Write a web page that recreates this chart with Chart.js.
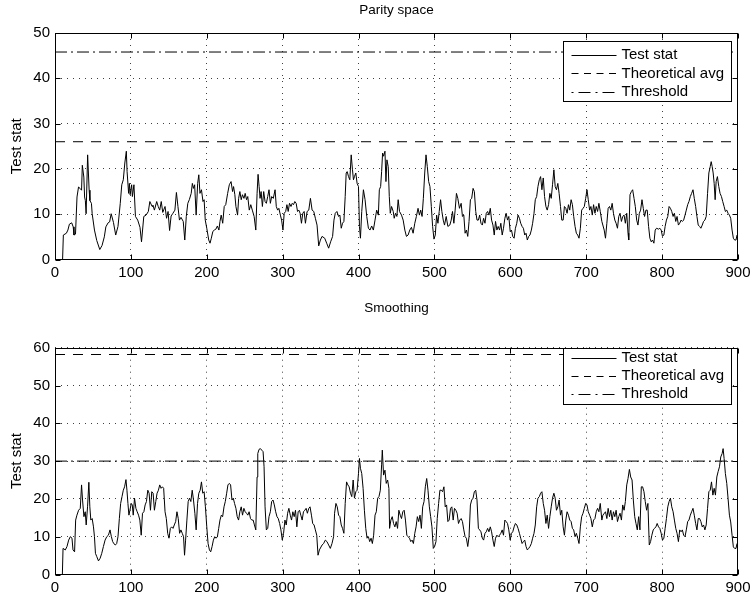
<!DOCTYPE html>
<html>
<head>
<meta charset="utf-8">
<script src="https://cdn.jsdelivr.net/npm/chart.js@4.4.1/dist/chart.umd.min.js"></script>
<style>
  html, body { margin: 0; padding: 0; background: #ffffff; }
  canvas { position: absolute; left: 0; top: 0; }
</style>
</head>
<body>
<canvas id="cTop" width="755" height="597"></canvas>
<canvas id="cBot" width="755" height="597"></canvas>
<script>
// ---------------- data ----------------
const xTickValues = [0, 100, 200, 300, 400, 500, 600, 700, 800, 900];
const parityYTicks = [0, 10, 20, 30, 40, 50];
const smoothingYTicks = [0, 10, 20, 30, 40, 50, 60];
const seriesNames = ['Test stat', 'Theoretical avg', 'Threshold'];
const panelTitles = ['Parity space', 'Smoothing'];
const yAxisLabel = 'Test stat';

const parityAvg = 26.0;
const parityThreshold = 45.8;
const smoothingAvg = 58.2;
const smoothingThreshold = 30.0;

// [sample, value]
const parityStat = [
[10,0],[11,5.4],[15,5.8],[17,6.5],[19,7.8],[22,8.1],[24,7.2],[25,5.4],[27,5.6],[29,13.8],[31,16],[33,15.7],[35,15.3],[36,20.8],[38,18.2],[39,13.8],[40,13],[41,10.1],[43,23.1],[45,15.3],[46,13],[48,12.4],[49,10.1],[52,6.5],[55,4.2],[59,2.2],[62,3.1],[65,5.0],[67,7.2],[70,8.1],[72,8.3],[74,10.1],[77,8.2],[80,5.4],[83,7.3],[86,12.4],[88,16.5],[90,17.6],[92,21.3],[94,23.9],[95,19.4],[97,14.6],[98,16.8],[99,14.3],[101,16.5],[102,13.9],[104,16.5],[106,9.5],[109,8.7],[112,7.1],[114,3.9],[117,9.5],[120,9.8],[123,10.6],[125,12.8],[128,11.7],[129,12],[131,10.9],[134,12.8],[136,11.7],[138,10.9],[140,12.8],[142,10.4],[145,11.7],[147,9.1],[149,10.6],[151,6.4],[153,9.6],[155,10.1],[158,10.9],[160,14.8],[162,11.7],[164,8.7],[166,9.3],[169,8.4],[171,4.3],
[173,9.5],[175,12.4],[177,13.2],[179.5,14.6],[181,16.8],[182.5,15.7],[184,16.5],[186,9.8],[188,16.8],[189.5,18.7],[191,14.6],[193,15.4],[195,12.8],[196.5,13.2],[198,8.7],[200,6.9],[202.6,4.3],[204.3,3.6],[206,4.7],[208,6.2],[210,6.5],[212,6.7],[214,7.4],[216,6.5],[217.4,8.4],[219,9.8],[221,8.0],[223,11.7],[225,12.1],[227.5,14.6],[229.7,16.5],[232,17.2],[234,15.0],[235.3,16.1],[237,14.3],[238.4,11.7],[240.6,9.8],[242,13.5],[243.6,15.0],[245.4,13.2],[247,14.3],[249,13.5],[250.6,14.6],[252.4,13.2],[254,13.9],[256,10.9],[258,12.1],[260,10.9],[262.4,9.5],[264.6,6.5],[266.3,14.6],[267.6,18.8],[269,16.1],[270.2,13.5],[271.6,15.0],[273.3,11.7],[275,15.0],[276.8,12.8],[278.5,12.4],[280.3,13.9],[282,15.4],[283.8,12.4],[285.5,13.9],[287.7,13.5],[290,15.4],[291.6,11.7],[293.4,10.9],[295,11.3],[297,9.8],[298.6,8.7],[300.4,6.5],[302,10.2],[304,10.6],[305.6,12.1],[307.3,10.6],[309,12.4],[311,11.7],[312.6,12.4],[314.3,12.1],[316,12.8],[317.8,12.4],[319.6,10.6],[321.3,10.9],[323,10.2],[324.8,8.0],[326.5,10.2],[328.3,10.6],[330,8.0],[332.2,10.6],[334.4,10.9],[336.6,13.5],[338.8,10.9],[341,10.6],[343.1,9.1],[345.3,7.6],[347.5,3.0],[349.7,4.3],[351.9,5.1],
[355.4,4.7],[358,3.6],[360.6,2.5],[363.2,3.9],[365.8,5.1],[367.6,8.7],[369.3,10.2],[371.5,10.6],[373.7,9.5],[375.4,9.8],[377.2,6.9],[378.9,8.0],[380.7,8.4],[382.4,13.9],[383.7,19.1],[385,19.4],[386.8,18.3],[388.5,17.6],[390.3,23.1],[392,19.8],[393.3,17.6],[394.6,18.3],[396.4,19.1],[398.1,16.8],[399.9,16.1],[401.2,7.3],[402.5,4.7],[404.2,10.6],[406.4,15.4],[408.6,13.2],[410.8,9.5],[413,6.9],[415.1,6.5],[417.3,7.4],[419.5,6.5],[421.7,8.7],[423.9,10.9],[426.1,9.8],[427.4,15.4],[429.1,16.1],[430.4,19.4],[431.7,23.5],[433,22.8],[434.8,23.9],[436.1,17.2],[437.4,22.0],[439.1,20.5],[440.5,13.9],[441.8,10.2],[443.5,11.7],[445.7,10.6],[447,9.1],[448.7,10.2],[450.5,9.5],[452.2,13.2],[454,10.6],[456.6,9.8],[458.8,8.7],[461,6.5],[463.1,5.1],[465.3,5.4],[467.5,6.5],[469.7,7.1],[471.9,5.8],[474.1,8.0],[476.2,9.5],[478.4,11.3],[480.2,9.8],[481.9,10.9],[483.7,9.5],[485.4,13.5],[487.2,19.1],[488.9,23.1],[490.6,20.5],[492.4,17.2],[494.1,16.1],[495.9,11.7],[497.6,7.3],[499.4,4.5],[501.1,5.4],[502.9,9.8],[504.6,8.0],[506.3,10.6],[508.1,13.2],[509.8,10.6],[511.6,8.7],[513.3,7.6],[515.5,9.5],[517.7,7.3],[520.3,7.6],[522.1,8.7],[523.8,10.6],[525.6,8.0],[527.3,10.9],[529,14.6],[530.8,13.5],[533,11.3],
[535.2,12.4],[536.9,9.5],[538.7,9.8],[540.4,5.8],[542.1,6.5],[543.9,5.1],[545.6,8.4],[547.4,13.2],[549.1,13.5],[550.9,15.7],[552.6,15.0],[554.4,10.6],[556.1,8.7],[557.9,8.7],[559.6,9.8],[561.3,8.0],[563.1,7.6],[564.8,9.1],[566.6,8.0],[568.3,10.2],[570.1,10.6],[571.8,9.8],[573.6,11.3],[575.3,8.7],[577.1,7.6],[578.8,5.4],[580.5,8.4],[582.3,6.5],[584,7.3],[585.8,6.5],[587.5,8.0],[589.3,5.4],[591,6.9],[592.8,9.1],[594.5,10.2],[596.3,8.7],[598,9.5],[599.8,6.2],[601.5,6.5],[603.2,5.1],[605,4.7],[606.7,6.9],[608.5,8.0],[610.2,9.8],[612,9.1],[613.7,8.0],[615.5,7.3],[617.2,6.9],[619,5.4],[620.7,5.8],[622.4,4.3],[624.2,5.1],[625.9,5.4],[627.7,6.5],[629.4,8.0],[631.2,10.2],[632.9,13.2],[634.7,13.9],[636.4,16.1],[638.2,17.6],[639.9,18.3],[641.6,15.4],[643.4,18.0],[645.1,13.9],[646.9,11.7],[648.6,10.9],[650.4,12.1],[652.1,14.6],[653.9,13.5],[655.6,16.5],[657.4,19.8],[659.1,16.1],[660.8,15.4],[662.6,16.8],[664.3,14.6],[666.1,11.7],[667.8,8.7],[669.6,8.7],[671.3,11.7],[673.1,11.3],[674.8,10.2],[676.6,12.1],[678.3,10.9],[680.1,13.2],[681.8,12.1],[683.5,9.5],[685.3,7.3],[687,5.8],[688.8,5.4],[690.5,4.7],[692.3,6.9],[694,10.9],[695.8,11.3],[697.5,11.7],[699.3,13.5],[701,15.4],[702.7,13.2],[704.5,10.9],[706.2,11.7],[708,9.8],[709.7,12.1],[711.5,10.2],[713.2,11.7],[715,10.6],[716.7,12.4],[718.5,10.6],[720.6,8.4],
[723.7,6.5],[725.4,4.7],[727.2,8.0],[728.9,11.3],[730.7,11.7],[732.4,10.9],[734.2,12.4],[735.9,10.2],[737.7,8.7],[739.4,8.0],[741.2,6.9],[742.9,9.5],[744.6,10.2],[746.4,8.4],[748.1,9.5],[749.9,9.8],[751.6,8.0],[753.4,10.2],[755.1,5.8],[756,4.3],[757.7,14.3],[759.5,15.0],[761.2,15.4],[763,13.5],[764.7,11.7],[766.5,8.7],[768.2,7.6],[770,10.2],[771.7,10.9],[773.5,13.2],[775.2,11.3],[776.9,9.5],[778.7,10.9],[780.4,10.9],[782.2,7.3],[783.9,4.7],[785.7,3.9],[787.4,4.3],[789.2,3.6],[790.9,6.5],[792.7,6.9],[795.3,6.7],[797,6.9],[798.8,6.5],[800.5,5.1],[802.3,5.4],[804,7.3],[805.7,8.7],[807.5,9.5],[809.2,11.7],[811,11.3],[812.7,10.6],[814.5,9.5],[816.2,10.2],[818,8.4],[819.7,9.5],[821.5,7.6],[823.2,8.0],[825,8.7],[826.7,8.4],[828.4,8.7],[830.2,9.8],[831.9,10.9],[833.7,12.1],[835.4,12.8],[837.2,13.9],[838.9,14.6],[840.7,15.4],[842.4,13.5],[844.2,11.7],[845.9,9.5],[847.6,7.6],[849.4,7.3],[851.1,6.9],[852.9,7.6],[854.6,8.4],[856.4,8.7],[858.1,9.5],[859.9,14.6],[861.6,19.1],[863.4,20.5],[864.7,21.6],[866,20.5],[867.3,19.1],[868.6,16.8],[869.9,13.2],[871.2,17.2],[872.9,18.3],[874.7,16.1],[876.4,14.6],[878.2,13.9],[879.9,12.8],[881.7,11.7],[883.4,10.6],[885.2,10.9],[886.9,10.2],[888.7,9.8],[890.4,9.1],[892.2,6.5],[893.9,4.7],[895.6,4.3],[897.4,4.3],[898.7,5.4]
];

const smoothingStat = [
[9.7,0],[10.6,6.9],[13.6,6.5],[15.8,7.4],[18,9.1],[20.2,10.0],[22.4,9.6],[23.7,6.5],[25.8,6.0],[27.2,14.4],[28.9,15.7],[31.1,17.0],[33.3,17.5],[35,23.7],[36.3,19.7],[38.1,15.3],[39.8,16.6],[41.1,13.1],[42.9,17.9],[44.6,24.4],[45.9,17.9],[47.2,14.4],[49,14.8],[50.7,12.6],[52,10.0],[53.3,5.6],[55.1,4.7],[57.3,3.6],[59.5,4.3],[61.6,5.6],[63.8,7.4],[66,9.1],[68.2,10.0],[70.4,10.4],[72.5,11.8],[74.3,10.0],[76,8.7],[77.8,8.1],[79.5,7.8],[81.3,8.2],[83,10.0],[84.8,14.8],[86.5,18.8],[88.3,20.6],[90,22.3],[91.7,23.2],[93.5,25.1],[94.8,22.3],[96.1,18.8],[97.4,15.7],[98.7,17.0],[100.5,18.8],[101.8,18.4],[103.1,15.7],[104.8,20.2],[106.6,17.5],[108.3,16.6],[110.1,15.7],[111.8,14.4],[113.6,10.4],[115.3,16.2],[117.1,16.6],[118.8,18.4],[120.5,19.3],[122.3,22.3],[124,21.5],[125.8,17.0],[127.5,21.9],[129.3,21.5],[131,17.0],[132.8,19.3],[134.5,21.5],[136.3,22.3],[138,23.7],[139.8,22.8],[141.5,23.2],[143.2,22.8],[145,16.6],[146.7,14.8],[148.5,10.9],[150.2,9.6],[152,12.2],[153.7,12.6],[155.5,12.2],[157.2,13.1],[159,14.0],[160.7,16.6],[162.4,14.8],[164.2,10.9],[165.9,11.8],[167.7,10.9],[169.4,10.0],[170.7,5.1],
[172.1,9.1],[173.8,14.4],[175.5,19.3],[177.3,20.2],[179,19.3],[180.8,22.3],[182.5,19.7],[184.3,16.2],[186,11.8],[187.8,18.8],[189.5,21.5],[191.3,22.3],[193,24.5],[194.7,21.5],[196.5,21.9],[198.2,17.9],[200,12.6],[201.7,8.2],[203.5,6.5],[205.2,6.0],[207,7.4],[208.7,9.1],[210.5,10.0],[212.2,9.6],[214,10.0],[215.7,12.2],[217.4,14.4],[219.2,15.7],[220.9,15.3],[222.7,17.9],[224.4,19.3],[226.2,21.5],[227.9,23.7],[229.7,24.1],[231.4,23.7],[233.2,19.7],[234.9,20.2],[236.6,18.8],[238.4,17.5],[240.1,15.3],[241.9,14.4],[243.6,16.6],[245.4,17.9],[247.1,15.7],[248.9,17.5],[250.6,16.6],[252.4,16.2],[254.1,15.7],[255.8,16.6],[257.6,14.8],[259.3,14.4],[261.1,14.4],[262.8,13.1],[264.6,11.8],[266.3,25.8],[267.2,32.0],[268.9,33.1],[270.7,33.3],[272.4,32.9],[274.2,32.5],[275.5,28.5],[276.8,17.9],[278.5,11.8],[280.3,12.2],[282,15.3],[283.8,16.6],[285.5,19.3],[287.3,19.7],[289,18.4],[290.8,16.6],[292.5,15.3],[294.2,14.8],[296,13.5],[297.7,11.8],[299.5,9.1],[301.2,10.9],[303,14.4],[304.7,13.1],[306.5,16.2],[308.2,17.5],[310,15.7],[311.7,14.4],[313.4,16.6],[315.2,15.3],[316.9,17.0],[318.7,12.6],[320.4,16.6],[322.2,17.0],[323.9,15.7],[325.7,14.4],[327.4,16.6],[329.2,17.0],[330.9,17.5],[332.6,16.2],[334.4,17.5],[336.1,17.9],[337.9,15.7],[339.6,13.5],[341.4,13.1],[343.1,11.8],[344.9,10.4],[346.6,5.1],[348.4,6.5],
[351.9,7.8],[354,8.2],[356.2,9.1],[358.4,8.7],[360.6,7.8],[362.8,6.9],[365,8.2],[367.1,10.0],[368.4,16.2],[370.2,18.8],[371.9,17.9],[373.7,15.7],[375.4,15.3],[377.2,13.1],[378.9,12.2],[380.7,10.9],[382.4,18.8],[384.2,24.5],[385.9,23.7],[387.6,23.2],[389.4,21.5],[391.1,20.6],[392.9,25.0],[394.6,20.2],[396.4,21.9],[398.1,22.3],[399.9,26.7],[401.2,30.7],[402.5,28.1],[404.2,26.7],[406,22.8],[407.7,17.0],[409.5,12.2],[411.2,9.6],[413,10.0],[414.7,8.7],[416.5,9.6],[418.2,8.2],[419.9,10.4],[421.7,15.7],[423.4,16.6],[425.2,20.2],[426.9,20.6],[428.7,22.3],[430.4,29.0],[431.3,32.9],[433,26.3],[434.8,27.6],[436.5,24.1],[438.3,25.0],[440,22.8],[440.9,12.2],[442.6,14.4],[444.4,15.3],[446.1,13.5],[447.9,12.6],[449.6,14.0],[451.4,12.2],[453.1,17.0],[454.9,15.7],[456.6,14.8],[458.3,16.6],[460.1,17.0],[461.8,14.4],[463.6,10.4],[465.3,10.0],[467.1,9.6],[468.8,8.7],[470.6,9.1],[472.3,8.2],[474.1,10.9],[475.8,12.6],[477.5,15.3],[479.3,14.0],[481,15.7],[482.8,12.2],[484.5,17.9],[486.3,19.3],[488,23.2],[489.8,25.4],[491.5,22.3],[493.3,17.9],[495,15.3],[496.7,12.6],[498.5,6.9],[500.2,7.4],[502,8.7],[503.7,14.8],[505.5,18.8],[507.2,22.3],[509,22.3],[510.7,21.9],[512.5,23.2],[514.2,17.9],[516,18.4],[517.7,14.0],[519.4,14.4],[521.2,17.5],[522.9,17.9],[524.7,14.4],[526.4,17.5],[528.2,17.0],[529.9,16.2],[531.7,13.5],[533.4,14.4],
[535.2,14.8],[536.9,14.0],[538.7,11.8],[540.4,10.0],[542.1,9.6],[543.9,7.4],[545.6,10.0],[547.4,18.4],[549.1,19.7],[550.9,20.2],[552.6,21.9],[554.4,22.3],[556.1,19.7],[557.9,12.2],[559.6,11.8],[561.3,11.3],[563.1,9.6],[564.8,9.1],[566.6,10.9],[568.3,11.3],[570.1,12.2],[571.8,11.3],[573.6,12.6],[575.3,11.3],[577.1,9.1],[578.8,7.4],[580.5,9.6],[582.3,10.4],[584,10.0],[585.8,10.4],[587.5,10.9],[589.3,11.8],[591,10.4],[592.8,14.4],[594.5,14.0],[596.3,13.5],[598,11.8],[599.8,9.1],[601.5,10.9],[603.2,11.3],[605,12.6],[606.7,13.5],[608.5,13.1],[610.2,12.2],[612,10.9],[613.7,9.6],[615.5,8.2],[617.2,8.7],[619,9.1],[620.7,7.4],[622.4,6.5],[624.2,6.9],[625.9,7.4],[627.7,8.2],[629.4,9.6],[631.2,10.9],[632.9,13.1],[634.7,17.9],[636.4,20.2],[638.2,20.6],[639.9,21.5],[641.6,21.9],[643.4,18.8],[645.1,17.0],[646.9,13.5],[648.6,15.7],[650.4,12.2],[652.1,15.3],[653.9,17.9],[655.6,20.2],[657.4,21.5],[659.1,20.2],[660.8,17.0],[662.6,17.9],[664.3,19.7],[666.1,15.7],[667.8,17.0],[669.6,12.6],[671.3,10.4],[673.1,14.4],[674.8,16.6],[676.6,15.7],[678.3,14.4],[680.1,14.0],[681.8,12.2],[683.5,11.8],[685.3,10.0],[687,10.9],[688.8,9.6],[690.5,8.2],[692.3,12.6],[694,15.3],[695.8,16.2],[697.5,17.5],[699.3,18.8],[701,18.4],[702.7,16.6],[704.5,15.7],[706.2,14.8],[708,12.6],[709.7,14.4],[711.5,14.8],[713.2,16.6],[715,17.5],[716.7,16.6],[718.5,18.8],[720.6,14.4],
[722,15.7],[725.4,16.6],[727.2,14.8],[728.9,17.5],[730.7,15.3],[732.4,17.0],[734.2,14.4],[735.9,16.6],[737.7,15.3],[739.4,17.0],[741.2,14.0],[742.9,15.3],[744.6,16.2],[746.4,14.4],[748.1,18.4],[749.9,17.0],[751.6,19.3],[753.4,23.7],[755.1,25.4],[756.9,27.8],[758.6,25.8],[760.4,25.0],[762.1,19.7],[763.9,15.3],[765.6,13.5],[767.3,11.8],[769.1,15.3],[770.8,11.8],[772.6,23.2],[774.3,23.2],[776.1,21.9],[777.8,19.3],[779.6,17.0],[781.3,18.8],[783.1,7.8],[784.8,8.7],[786.5,10.4],[788.3,11.8],[790,12.2],[791.8,12.6],[793.5,13.5],[795.3,12.6],[797,12.2],[798.8,10.9],[800.5,9.1],[802.3,9.6],[804,12.2],[805.7,14.8],[807.5,17.9],[809.2,19.3],[811,20.2],[812.7,17.9],[814.5,16.6],[816.2,14.4],[818,12.2],[819.7,10.9],[821.5,8.7],[823.2,11.8],[825,11.3],[826.7,11.8],[828.4,10.4],[830.2,10.0],[831.9,11.8],[833.7,14.0],[835.4,14.4],[837.2,15.7],[838.9,16.6],[840.7,17.5],[842.4,15.7],[844.2,13.5],[845.9,11.8],[847.6,14.8],[849.4,14.8],[851.1,14.0],[852.9,12.6],[854.6,13.1],[856.4,11.8],[858.1,13.1],[859.9,17.5],[861.6,21.9],[863.4,22.3],[865.1,24.5],[866.9,21.0],[868.6,22.8],[870.3,21.0],[872.1,25.8],[873.8,27.2],[875.6,28.5],[877.3,31.1],[879.1,32.0],[880.4,33.3],[881.7,30.7],[883.4,26.7],[885.2,24.1],[886.9,20.2],[888.7,15.7],[890.4,13.9],[892.2,10.4],[893.9,7.3],[895.6,6.9],[897.4,6.9],[898.7,8.2],[899.6,10.0]
];

// ---------------- drawing ----------------
const FONT = "'Liberation Sans', Arial, Helvetica, sans-serif";
const W = 755, H = 597, XAXIS_H = 20;
Chart.defaults.font.family = FONT;
Chart.defaults.color = '#000';

const DASHED = [10, 8];
const DASHDOT = [12, 4, 2, 4];

function framePlugin(titleText, titleGap, legTop, legFirst, legPitch, legH) {
  return {
    id: 'matlabFrame',
    afterDraw(chart) {
      const ctx = chart.ctx;
      const a = chart.chartArea;
      const xs = chart.scales.x, ys = chart.scales.y;
      const L = Math.round(a.left) + 0.5, R = Math.round(a.right) - 0.5;
      const T = Math.round(a.top) + 0.5, B = Math.round(a.bottom) - 0.5;
      ctx.save();
      ctx.strokeStyle = '#000';
      ctx.lineWidth = 1;
      ctx.setLineDash([]);
      // inward ticks
      ctx.beginPath();
      xs.ticks.forEach(t => {
        const px = Math.round(xs.getPixelForValue(t.value)) + 0.5;
        ctx.moveTo(px, B); ctx.lineTo(px, B - 5);
        ctx.moveTo(px, T); ctx.lineTo(px, T + 5);
      });
      ys.ticks.forEach(t => {
        const py = Math.round(ys.getPixelForValue(t.value)) + 0.5;
        ctx.moveTo(L, py); ctx.lineTo(L + 5, py);
        ctx.moveTo(R, py); ctx.lineTo(R - 5, py);
      });
      ctx.stroke();
      // box
      ctx.strokeRect(L, T, R - L, B - T);
      // title
      ctx.fillStyle = '#000';
      ctx.font = '13.5px ' + FONT;
      ctx.textAlign = 'center';
      ctx.textBaseline = 'middle';
      ctx.fillText(titleText, (a.left + a.right) / 2, a.top - titleGap);
      // legend
      ctx.font = '15px ' + FONT;
      const ds = chart.data.datasets;
      let maxW = 0;
      ds.forEach(d => { maxW = Math.max(maxW, ctx.measureText(d.label).width); });
      const boxW = Math.round(8 + 45 + 5 + maxW + 7);
      const bx = Math.round(a.right - 7 - boxW) + 0.5;
      const by = Math.round(a.top + legTop) + 0.5;
      ctx.fillStyle = '#fff';
      ctx.fillRect(bx, by, boxW, legH);
      ctx.strokeRect(bx, by, boxW, legH);
      ds.forEach((d, i) => {
        const ry = by + legFirst + i * legPitch;
        ctx.beginPath();
        ctx.setLineDash(d.legendDash || []);
        ctx.moveTo(bx + 8, Math.round(ry) + 0.5);
        ctx.lineTo(bx + 53, Math.round(ry) + 0.5);
        ctx.stroke();
        ctx.setLineDash([]);
        ctx.fillStyle = '#000';
        ctx.textAlign = 'left';
        ctx.textBaseline = 'middle';
        ctx.fillText(d.label, bx + 58, ry + 0.5);
      });
      ctx.restore();
    }
  };
}

function makePanel(canvasId, stat, avg, thr, yMax, yTicks, title, areaTop, areaBottom, frame) {
  return new Chart(document.getElementById(canvasId), {
    type: 'line',
    data: {
      datasets: [
        { label: seriesNames[0], data: stat.map(p => ({ x: p[0], y: p[1] })),
          borderColor: '#000', borderWidth: 1, pointRadius: 0, tension: 0, fill: false, legendDash: [] },
        { label: seriesNames[1], data: [{ x: 0, y: avg }, { x: 900, y: avg }],
          borderColor: '#000', borderWidth: 1, borderDash: DASHED, pointRadius: 0, fill: false, legendDash: [7, 5.5] },
        { label: seriesNames[2], data: [{ x: 0, y: thr }, { x: 900, y: thr }],
          borderColor: '#000', borderWidth: 1, borderDash: DASHDOT, pointRadius: 0, fill: false, legendDash: [2, 5, 12, 5] }
      ]
    },
    options: {
      responsive: false,
      animation: false,
      devicePixelRatio: 1,
      layout: { padding: { left: 0, right: W - 741, top: areaTop, bottom: H - areaBottom - XAXIS_H } },
      plugins: { legend: { display: false }, tooltip: { enabled: false }, title: { display: false } },
      scales: {
        x: {
          type: 'linear', min: 0, max: 900,
          afterBuildTicks: s => { s.ticks = xTickValues.map(v => ({ value: v })); },
          afterFit: s => { s.height = XAXIS_H; },
          grid: { color: 'rgba(0,0,0,0.75)', lineWidth: 1, drawTicks: false },
          border: { display: false, dash: [1, 5] },
          ticks: { color: '#000', font: { size: 15, family: FONT }, padding: 4.5, maxRotation: 0, autoSkip: false }
        },
        y: {
          type: 'linear', min: 0, max: yMax,
          afterBuildTicks: s => { s.ticks = yTicks.map(v => ({ value: v })); },
          afterFit: s => { s.width = 55; },
          grid: { color: 'rgba(0,0,0,0.75)', lineWidth: 1, drawTicks: false },
          border: { display: false, dash: [1, 5] },
          ticks: { color: '#000', font: { size: 15, family: FONT }, padding: 5, autoSkip: false },
          title: { display: true, text: yAxisLabel, color: '#000', font: { size: 15, family: FONT }, padding: { top: 8, bottom: 0 } }
        }
      }
    },
    plugins: [framePlugin(title, frame.titleGap, frame.legTop, frame.legFirst, frame.legPitch, frame.legH)]
  });
}

makePanel('cTop', parityStat, parityAvg, parityThreshold, 50, parityYTicks, panelTitles[0], 33, 259.5,
  { titleGap: 23, legTop: 8, legFirst: 13, legPitch: 18.5, legH: 60 });
makePanel('cBot', smoothingStat, smoothingAvg, smoothingThreshold, 60, smoothingYTicks, panelTitles[1], 347.7, 574.5,
  { titleGap: 39.5, legTop: 0, legFirst: 9, legPitch: 18, legH: 56 });
</script>
</body>
</html>
